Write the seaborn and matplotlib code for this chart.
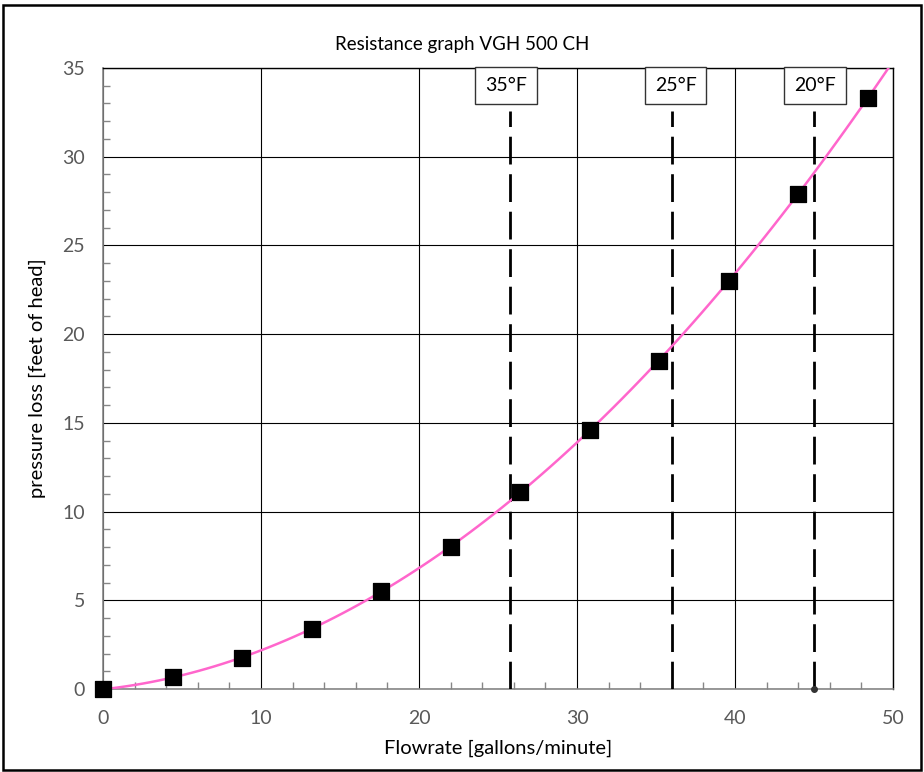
#!/usr/bin/env python3
"""Resistance graph VGH 500 CH - pressure loss vs flowrate."""
import numpy as np
import pandas as pd
import seaborn as sns
import matplotlib.pyplot as plt
from matplotlib.patches import Rectangle
from matplotlib.ticker import MultipleLocator

# measured points
flowrate = [0, 4.4, 8.8, 13.2, 17.6, 22.0, 26.4, 30.8, 35.2, 39.6, 44.0, 48.4]
pressure = [0, 0.65, 1.75, 3.4, 5.5, 8.0, 11.1, 14.6, 18.5, 23.0, 27.9, 33.3]

# temperature markers
temp_flow = [25.75, 36.0, 45.0]
temp_labels = ["35°F", "25°F", "20°F"]

df = pd.DataFrame({"flow": flowrate, "loss": pressure})

sns.set_style("white")
plt.rcParams['font.family'] = ['Lato', 'DejaVu Sans']

fig = plt.figure(figsize=(9.24, 7.72), dpi=100)
ax = fig.add_axes([0.1115, 0.1075, 0.855, 0.8045])
ax.set_xlim(0, 50)
ax.set_ylim(0, 35)

# trendline (2nd order fit)
sns.regplot(data=df, x="flow", y="loss", order=2, ci=None, scatter=False,
            truncate=False, ax=ax, line_kws={"color": "#ff66cc", "linewidth": 1.8, "zorder": 4})

# data points
sns.scatterplot(data=df, x="flow", y="loss", marker="s", s=130, color="black",
                edgecolor="black", ax=ax, zorder=5, clip_on=False)

# dashed temperature lines + labels
for xv, lab, dx in zip(temp_flow, temp_labels, [-4, 4, 1]):
    ax.plot([xv, xv], [0, 32.6], color="black", linewidth=2,
            linestyle=(0, (10, 3.5)), zorder=3)
    ax.annotate(lab, xy=(xv, 34.0), xytext=(dx, 0), textcoords="offset pixels",
                ha="center", va="center", fontsize=14, color="black",
                bbox=dict(boxstyle="square,pad=0.5", fc="white", ec="#333333", lw=1),
                zorder=6)
ax.plot([temp_flow[-1]], [0], marker="o", markersize=4, color="#333333",
        clip_on=False, zorder=6)

ax.set_xlim(0, 50)
ax.set_ylim(0, 35)
ax.xaxis.set_major_locator(MultipleLocator(10))
ax.xaxis.set_minor_locator(MultipleLocator(2))
ax.yaxis.set_major_locator(MultipleLocator(5))
ax.yaxis.set_minor_locator(MultipleLocator(1))
ax.grid(True, which="major", color="black", linewidth=0.8)
ax.tick_params(which="both", direction="in", colors="#868686", labelcolor="#595959",
               labelsize=14, bottom=True, left=True)
ax.tick_params(which="major", length=0)
ax.tick_params(axis="x", which="major", pad=15)
ax.tick_params(axis="y", which="major", pad=13)
ax.tick_params(which="minor", length=5, width=1)

for side in ["left", "bottom"]:
    ax.spines[side].set_color("#868686")
    ax.spines[side].set_linewidth(1.2)
for side in ["top", "right"]:
    ax.spines[side].set_color("black")
    ax.spines[side].set_linewidth(1)
ax.set_axisbelow(True)

ax.set_xlabel("Flowrate [gallons/minute]", fontsize=14.5, color="black", labelpad=9)
ax.set_ylabel("pressure loss [feet of head]", fontsize=14.5, color="black", labelpad=12)
fig.text(0.5, 0.942, "Resistance graph VGH 500 CH", ha="center", va="center",
         fontsize=13.5, color="black")

# outer chart border
fig.patches.append(Rectangle((0.003, 0.003), 0.994, 0.991, transform=fig.transFigure,
                             fill=False, edgecolor="black", linewidth=1.8))

fig.savefig("out.png", dpi=100)
